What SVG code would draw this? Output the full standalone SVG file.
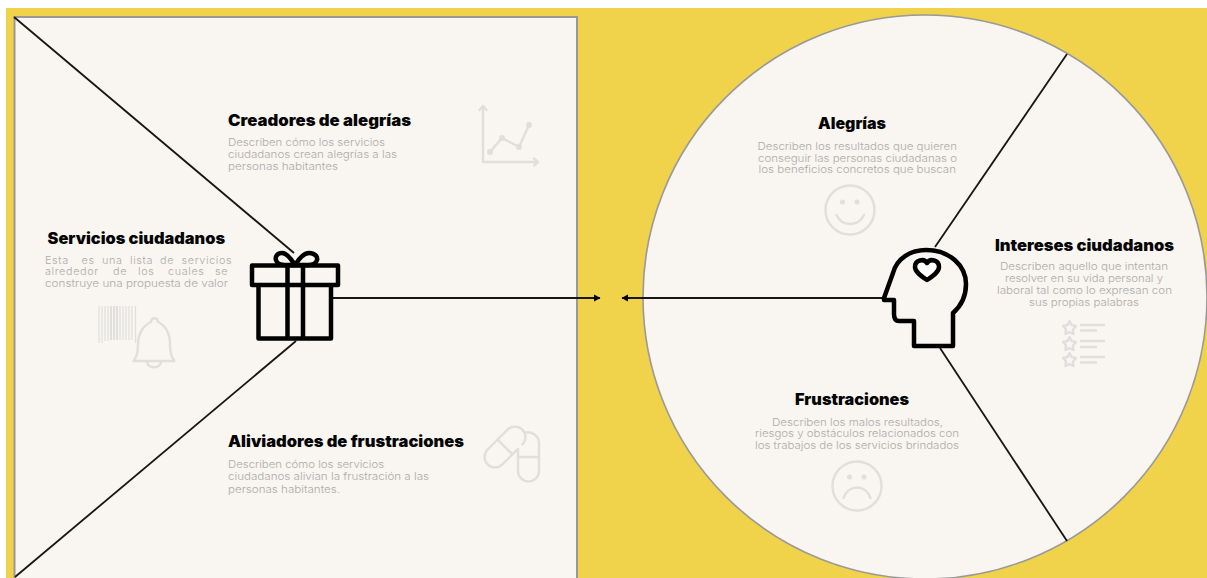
<svg xmlns="http://www.w3.org/2000/svg" width="1207" height="578" viewBox="0 0 1207 578">
<style>
.t{font-family:Inter,"Liberation Sans",sans-serif;font-weight:900;font-size:15.5px;fill:#050505}
.d{font-family:Inter,"Liberation Sans",sans-serif;font-weight:300;font-size:10.8px;fill:#acacaa}
.j{letter-spacing:.65px}
.ic{fill:none;stroke:#dfdfde;stroke-width:2.4;stroke-linecap:round;stroke-linejoin:round}
.k{fill:none;stroke:#000;stroke-width:4.500;stroke-linejoin:round;stroke-linecap:round}
.c{fill:none;stroke:#161616;stroke-width:1.800}
.bar{stroke:#dfdfde;fill:none}
</style>
<defs>
<marker id="ah" markerUnits="userSpaceOnUse" markerWidth="8" markerHeight="8" refX="6" refY="4" orient="auto"><path d="M0 0.500L6.500 4L0 7.500Z" fill="#000"/></marker>
</defs>
<rect width="1207" height="578" fill="#fff"/>
<rect x="6" y="8" width="1201" height="570" fill="#f0d24b"/>
<g id="panel-left"><rect x="14.500" y="17" width="562.500" height="575" fill="#f9f5f1" stroke="#999" stroke-width="2"/></g>
<g id="panel-right"><circle cx="925" cy="297" r="282" fill="#f9f5f1" stroke="#999" stroke-width="1.600"/></g>
<g id="connectors">
<line class="c" x1="14" y1="17" x2="294" y2="253"/>
<line class="c" x1="296" y1="341" x2="15" y2="577"/>
<line class="c" x1="332" y1="298" x2="600" y2="298" marker-end="url(#ah)"/>
<line class="c" x1="882" y1="298" x2="622" y2="298" marker-end="url(#ah)"/>
<line class="c" x1="935" y1="247" x2="1067" y2="54"/>
<line class="c" x1="940" y1="348" x2="1067" y2="541"/>
</g>
<g id="creadores">
<text class="t" x="228" y="125.500" textLength="183" lengthAdjust="spacingAndGlyphs">Creadores de alegrías</text>
<text class="d" x="228" y="145.500" textLength="157" lengthAdjust="spacingAndGlyphs">Describen cómo los servicios</text>
<text class="d" x="228" y="157.500" textLength="169" lengthAdjust="spacingAndGlyphs">ciudadanos crean alegrías a las</text>
<text class="d" x="228" y="170" textLength="110" lengthAdjust="spacingAndGlyphs">personas habitantes</text>
<path class="ic" d="M483 106V162H538M479.500 110L483 106L486.500 110M534 158.500L538 162L534 165.500"/>
<path class="ic" d="M490 152L502 138L519 147L529 125"/>
<g fill="#dfdfde"><circle cx="490" cy="152" r="3"/><circle cx="502" cy="138" r="3"/><circle cx="519" cy="147" r="3"/><circle cx="529" cy="125" r="3"/></g>
</g>
<g id="servicios">
<text class="t" x="47.500" y="243.500" textLength="177.500" lengthAdjust="spacingAndGlyphs">Servicios ciudadanos</text>
<text class="d j" y="263.500"><tspan x="45">Esta</tspan><tspan x="81.500">es</tspan><tspan x="102">una</tspan><tspan x="130">lista</tspan><tspan x="160">de</tspan><tspan x="181.500">servicios</tspan></text>
<text class="d j" y="275"><tspan x="45">alrededor</tspan><tspan x="113">de</tspan><tspan x="138">los</tspan><tspan x="168">cuales</tspan><tspan x="215">se</tspan></text>
<text class="d" x="45" y="287" textLength="183" lengthAdjust="spacingAndGlyphs">construye una propuesta de valor</text>
<g class="bar" stroke-width="1.200">
<path d="M99 306V343M102 306V343M105 306V341M108 306V341"/>
<path d="M111 306V340M114 306V340M117 306V340" stroke-width="2"/>
<path d="M120 306V340M123 306V340M126 306V340M129 306V340M132 306V340M135.500 306V343"/>
</g>
<path class="ic" d="M134 360C137 357 138 352 138 344C138 333 144 325 151 322C151 317 158 317 158 322C165 325 170 333 170 344C170 352 171 357 174 360C175 362 173 361 172 361H135C134 361 133 362 134 360Z" style="fill:#f9f5f1"/>
<path class="ic" d="M147 362C148 369 160 369 161 362"/>
</g>
<g id="aliviadores">
<text class="t" x="228" y="446.500" textLength="236" lengthAdjust="spacingAndGlyphs">Aliviadores de frustraciones</text>
<text class="d" x="228" y="467.500" textLength="156" lengthAdjust="spacingAndGlyphs">Describen cómo los servicios</text>
<text class="d" x="228" y="480" textLength="201" lengthAdjust="spacingAndGlyphs">ciudadanos alivian la frustración a las</text>
<text class="d" x="228" y="492.500" textLength="112" lengthAdjust="spacingAndGlyphs">personas habitantes.</text>
<g class="ic">
<path transform="translate(505 447) rotate(-45)" d="M8 10.500L-14 10.500A10.500 10.500 0 0 1 -14 -10.500L14 -10.500A10.500 10.500 0 0 1 14 10.500M0 -10.500V10.500"/>
<path d="M518 450V471A10.500 10.500 0 0 0 539 471V443A11 11 0 0 0 526 432.500M518 457H539"/>
</g>
</g>
<g id="alegrias">
<text class="t" x="818" y="129" textLength="68" lengthAdjust="spacingAndGlyphs">Alegrías</text>
<text class="d" x="757.500" y="150" textLength="199.500" lengthAdjust="spacingAndGlyphs">Describen los resultados que quieren</text>
<text class="d" x="758" y="161.700" textLength="199" lengthAdjust="spacingAndGlyphs">conseguir las personas ciudadanas o</text>
<text class="d" x="758.500" y="172.700" textLength="197.500" lengthAdjust="spacingAndGlyphs">los beneficios concretos que buscan</text>
<circle class="ic" cx="850" cy="210" r="24.500"/>
<circle cx="842.500" cy="202" r="2.500" fill="#dfdfde"/><circle cx="857" cy="202" r="2.500" fill="#dfdfde"/>
<path class="ic" d="M836.500 215C842 227 858 227 864 215"/>
</g>
<g id="intereses">
<text class="t" x="995" y="250.500" textLength="179" lengthAdjust="spacingAndGlyphs">Intereses ciudadanos</text>
<text class="d" x="1000" y="270" textLength="168" lengthAdjust="spacingAndGlyphs">Describen aquello que intentan</text>
<text class="d" x="1005" y="282" textLength="158" lengthAdjust="spacingAndGlyphs">resolver en su vida personal y</text>
<text class="d" x="997" y="294" textLength="175" lengthAdjust="spacingAndGlyphs">laboral tal como lo expresan con</text>
<text class="d" x="1029" y="306" textLength="110" lengthAdjust="spacingAndGlyphs">sus propias palabras</text>
<g id="star-list" class="ic">
<path d="M1069.500 321L1071.500 325L1076 326L1073 329.500L1073.500 334L1069.500 332L1065.500 334L1066 329.500L1063 326L1067.500 325Z"/>
<path d="M1069.500 337L1071.500 341L1076 342L1073 345.500L1073.500 350L1069.500 348L1065.500 350L1066 345.500L1063 342L1067.500 341Z"/>
<path d="M1069.500 353L1071.500 357L1076 358L1073 361.500L1073.500 366L1069.500 364L1065.500 366L1066 361.500L1063 358L1067.500 357Z"/>
<path d="M1081 325H1104M1081 330.500H1096M1081 341H1104M1081 347H1096M1081 357H1104M1081 362.500H1096"/>
</g>
</g>
<g id="frustraciones">
<text class="t" x="795" y="405" textLength="114" lengthAdjust="spacingAndGlyphs">Frustraciones</text>
<text class="d" x="772" y="425.500" textLength="171" lengthAdjust="spacingAndGlyphs">Describen los malos resultados,</text>
<text class="d" x="755" y="437" textLength="204" lengthAdjust="spacingAndGlyphs">riesgos y obstáculos relacionados con</text>
<text class="d" x="755" y="449" textLength="204" lengthAdjust="spacingAndGlyphs">los trabajos de los servicios brindados</text>
<circle class="ic" cx="857" cy="486" r="24.500"/>
<circle cx="849.500" cy="477" r="2.500" fill="#dfdfde"/><circle cx="864" cy="477" r="2.500" fill="#dfdfde"/>
<path class="ic" d="M843.500 498C848 484 866 484 870.500 498"/>
</g>
<g id="gift">
<path class="k" d="M295 265C290 257 286 253 282 253C277 253 275 257 276 260C277 264 281 265 285 265ZM295 265C300 257 304 253 309 253C315 253 318 257 317 260C316 264 312 265 308 265Z"/>
<path class="k" d="M252 265.500H338V285H252ZM258.500 285V338.500H331V285M287.500 265.500V338.500M303 265.500V338.500"/>
</g>
<g id="head">
<path class="k" d="M884 298L893 273C897 258 911 250 926 250C950 250 966 266 966 284C966 298 961 306 953 313V346H914V321H899C895 321 894 318 894 314V300H884Z"/>
<path class="k" d="M927 280C921 276 915 272 915 267C915 260 924 258 927 263C930 258 939 260 939 267C939 272 933 276 927 280Z" style="fill:#fff"/>
</g>
</svg>
